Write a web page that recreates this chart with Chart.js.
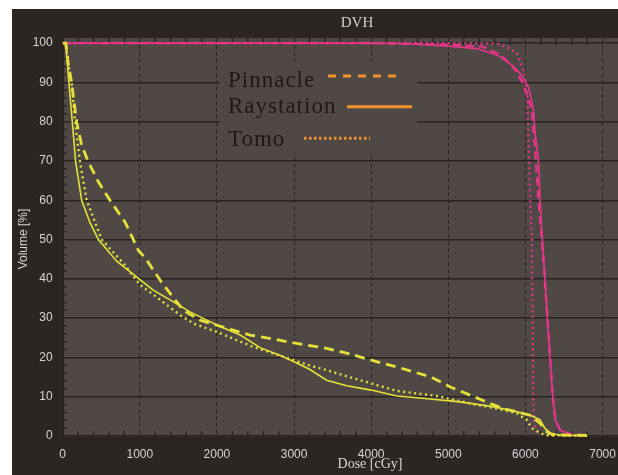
<!DOCTYPE html>
<html>
<head>
<meta charset="utf-8">
<title>DVH</title>
<script src="https://cdn.jsdelivr.net/npm/chart.js@4.4.1/dist/chart.umd.min.js"></script>
<style>
  html, body { margin: 0; padding: 0; background: #fff; }
  #frame { position: absolute; left: 12px; top: 9px; width: 606px; height: 466px; background: #2c2623; }
  canvas { display: block; }
</style>
</head>
<body>
<div id="frame"><canvas id="dvh" width="606" height="466"></canvas></div>
<script>
// Axis ticks
const doseTicks = [0, 1000, 2000, 3000, 4000, 5000, 6000, 7000];
const volTicks = [0, 10, 20, 30, 40, 50, 60, 70, 80, 90, 100];

// Organ at risk (yellow)
const pinOarDose = [0, 40, 70, 117, 182, 246, 332, 462, 613, 808, 916, 980, 1089, 1262, 1392, 1564, 1781, 1997, 2429, 2560, 3000, 3424, 3726, 4000, 4332, 4766, 5026, 5285, 5545, 5713, 5888, 6061, 6191, 6277, 6350, 6800];
const pinOarVol = [100, 100, 95, 89.7, 79.8, 74, 69.8, 64.7, 60, 54.5, 50, 47.3, 44.8, 39.7, 36.3, 32, 29.5, 28.2, 25.7, 25.3, 23.7, 22.3, 20.9, 19.3, 17.6, 15.1, 12.5, 10.4, 8.3, 7.0, 6.2, 5.3, 3.2, 1.1, 0.3, 0.2];

const rayOarDose = [0, 40, 60, 82, 125, 168, 246, 350, 462, 700, 990, 1170, 1430, 1650, 1870, 2005, 2300, 2560, 2820, 3000, 3200, 3424, 3683, 4000, 4332, 4630, 5150, 5580, 5890, 6100, 6190, 6250, 6320, 6450, 6800];
const rayOarVol = [100, 100, 95, 89.7, 79.8, 69.8, 60, 54.5, 50, 44.5, 40, 37.2, 34.2, 31.6, 29.5, 28.2, 25.7, 22.5, 20.5, 18.9, 17, 14.2, 12.8, 11.7, 10.2, 9.7, 8.7, 7.5, 6.2, 5.0, 4.1, 2.0, 0.8, 0.2, 0.1];

const tomoOarDose = [0, 40, 70, 117, 160, 224, 311, 506, 786, 1000, 1175, 1521, 1700, 2000, 2470, 3000, 3208, 3424, 3700, 4000, 4332, 4851, 5285, 5629, 5888, 6018, 6083, 6191, 6260, 6800];
const tomoOarVol = [100, 100, 95, 89.7, 79.8, 69.8, 60, 50, 44, 38.5, 36, 30.8, 28.6, 26.5, 22.7, 19.3, 17.9, 16.8, 15.1, 13.4, 11.5, 10.2, 8.3, 7.0, 5.8, 4.1, 2.0, 0.8, 0.2, 0.1];

// Target (magenta)
const pinPtvDose = [0, 4000, 4600, 5100, 5451, 5672, 5840, 5970, 6083, 6126, 6169, 6213, 6250, 6285, 6320, 6355, 6390, 6460, 6600, 6710];
const pinPtvVol = [100, 100, 99.8, 99.5, 99.1, 97, 94, 89.7, 83, 72.8, 60, 49.9, 40, 30, 20, 10, 4, 1.2, 0.4, 0.2];

const rayPtvDose = [0, 4000, 4462, 5000, 5370, 5629, 5801, 5931, 6039, 6104, 6126, 6169, 6191, 6213, 6255, 6285, 6320, 6355, 6385, 6450, 6550, 6600];
const rayPtvVol = [100, 100, 99.9, 99.2, 98.6, 97, 94.8, 92.3, 88.9, 83, 77, 70.2, 60, 51.6, 39.7, 29.5, 19.3, 10, 4.1, 1.5, 0.7, 0.2];

const tomoPtvDose = [0, 5000, 5629, 5760, 5888, 5974, 6010, 6026, 6045, 6061, 6083, 6096, 6104, 6148, 6200];
const tomoPtvVol = [100, 100, 99.9, 99, 97.4, 93.1, 89, 85.5, 72, 60, 50, 24.4, 4.1, 1.2, 0.3];

const legendNames = ["Pinnacle", "Raystation", "Tomo"];

const YELLOW = "#e6e03a";
const PINK = "#e8358c";
const ORANGE = "#f0922e";
const PLOT_BG = "#4f4845";
const GRID = "#2a2421";
const LABEL = "#d6d6d6";

function pts(dose, vol) {
  return dose.map((d, i) => ({ x: d, y: vol[i] }));
}

function line(label, dose, vol, color, width, dash) {
  return {
    label: label,
    data: pts(dose, vol),
    borderColor: color,
    borderWidth: width,
    borderDash: dash,
    pointRadius: 0,
    tension: 0,
    fill: false
  };
}

// grid background, minor ticks, legend box and titles
const dvhDecor = {
  id: "dvhDecor",
  beforeDraw(chart) {
    const { ctx, chartArea: a } = chart;
    ctx.save();
    ctx.fillStyle = PLOT_BG;
    ctx.fillRect(a.left, a.top, a.right - a.left, a.bottom - a.top);
    ctx.restore();
  },
  beforeDatasetsDraw(chart) {
    const { ctx, chartArea: a, scales } = chart;
    const x = scales.x, y = scales.y;
    ctx.save();
    ctx.strokeStyle = GRID;
    ctx.lineWidth = 1.5;
    ctx.beginPath();
    for (let d = 200; d < 7200; d += 200) {
      if (d % 1000 === 0) continue;
      const px = x.getPixelForValue(d);
      ctx.moveTo(px, a.bottom);
      ctx.lineTo(px, a.bottom - 9);
      ctx.moveTo(px, a.top);
      ctx.lineTo(px, a.top + 7);
    }
    for (let v = 2; v < 100; v += 2) {
      if (v % 10 === 0) continue;
      const py = y.getPixelForValue(v);
      ctx.moveTo(a.left, py);
      ctx.lineTo(a.left + 4, py);
    }
    ctx.stroke();
    ctx.fillStyle = GRID;
    ctx.fillRect(a.left, a.bottom - 3.5, a.right - a.left, 3.5);
    ctx.fillRect(a.left - 0.5, a.top, 1.8, a.bottom - a.top);
    ctx.restore();
  },
  afterDraw(chart) {
    const { ctx } = chart;
    ctx.save();
    // legend box
    ctx.fillStyle = "#4f4845";
    ctx.fillRect(208, 53, 197, 91);
    ctx.fillStyle = "#1d1917";
    ctx.font = "23px 'Liberation Serif'";
    ctx.textBaseline = "alphabetic";
    ctx.textAlign = "left";
    if ("letterSpacing" in ctx) ctx.letterSpacing = "1px";
    ctx.fillText(legendNames[0], 216, 77.7);
    ctx.fillText(legendNames[1], 216, 104.3);
    ctx.fillText(legendNames[2], 216, 136.7);
    if ("letterSpacing" in ctx) ctx.letterSpacing = "0px";
    ctx.strokeStyle = ORANGE;
    ctx.lineWidth = 3;
    ctx.setLineDash([8, 7]);
    ctx.beginPath(); ctx.moveTo(316, 67); ctx.lineTo(384, 67); ctx.stroke();
    ctx.setLineDash([]);
    ctx.beginPath(); ctx.moveTo(335, 97.7); ctx.lineTo(400, 97.7); ctx.stroke();
    ctx.setLineDash([2.5, 2.5]);
    ctx.beginPath(); ctx.moveTo(292, 129.3); ctx.lineTo(358, 129.3); ctx.stroke();
    ctx.setLineDash([]);
    // titles
    ctx.fillStyle = "#d2d2d2";
    ctx.textAlign = "center";
    ctx.font = "15px 'Liberation Serif'";
    ctx.fillText("DVH", 345, 18);
    ctx.fillStyle = LABEL;
    ctx.font = "14px 'Liberation Serif'";
    ctx.fillText("Dose [cGy]", 358, 459);
    ctx.restore();
  }
};

const sansFont = { family: "'Liberation Sans', Arial, sans-serif", size: 12 };

new Chart(document.getElementById("dvh"), {
  type: "line",
  data: {
    datasets: [
      line("Raystation OAR", rayOarDose, rayOarVol, YELLOW, 1.6, []),
      line("Tomo OAR", tomoOarDose, tomoOarVol, YELLOW, 2.4, [2, 3.5]),
      line("Pinnacle OAR", pinOarDose, pinOarVol, YELLOW, 2.8, [10, 6]),
      line("Raystation PTV", rayPtvDose, rayPtvVol, PINK, 1.6, []),
      line("Tomo PTV", tomoPtvDose, tomoPtvVol, PINK, 2.2, [2, 3.5]),
      line("Pinnacle PTV", pinPtvDose, pinPtvVol, PINK, 2.4, [8, 5])
    ]
  },
  options: {
    responsive: false,
    animation: false,
    layout: { padding: { top: 29, left: 0, right: 0, bottom: 0 } },
    plugins: {
      legend: { display: false },
      tooltip: { enabled: false },
      title: { display: false }
    },
    scales: {
      x: {
        type: "linear",
        min: 0,
        max: 7200,
        afterBuildTicks: s => { s.ticks = doseTicks.map(v => ({ value: v })); },
        afterFit: s => { s.height = 35; s.paddingLeft = 0; s.paddingRight = 0; },
        ticks: { color: LABEL, font: sansFont, padding: 7, maxRotation: 0, autoSkip: false, callback: v => String(v) },
        grid: { color: GRID, lineWidth: 1, drawTicks: false },
        border: { display: false, dash: [4, 3] }
      },
      y: {
        type: "linear",
        min: -1,
        max: 101.3,
        afterBuildTicks: s => { s.ticks = volTicks.map(v => ({ value: v })); },
        afterFit: s => { s.width = 50.7; s.paddingTop = 0; s.paddingBottom = 0; },
        ticks: { color: LABEL, font: sansFont, padding: 10, callback: v => String(v) },
        grid: { color: GRID, lineWidth: 1.5, drawTicks: false },
        border: { display: false },
        title: { display: true, text: "Volume [%]", color: LABEL, font: sansFont, padding: { top: 4, bottom: 0 } }
      }
    }
  },
  plugins: [dvhDecor]
});
</script>
</body>
</html>
